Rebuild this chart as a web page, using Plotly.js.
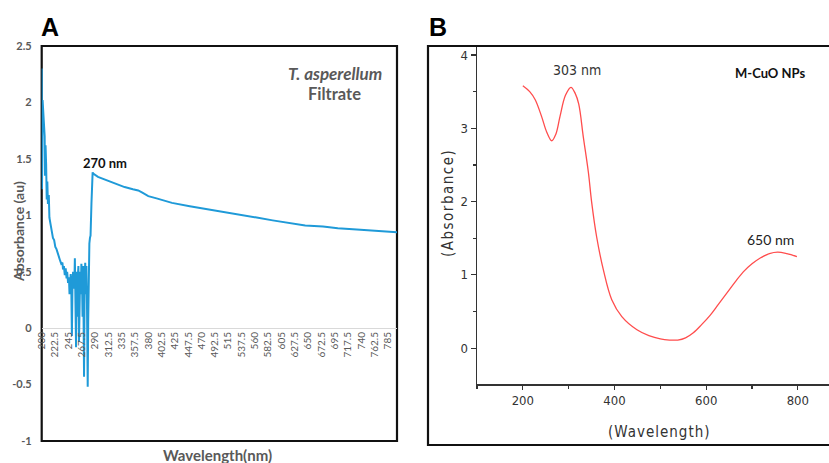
<!DOCTYPE html>
<html>
<head>
<meta charset="utf-8">
<script src="https://cdn.plot.ly/plotly-3.0.1.min.js"></script>
<style>
html,body{margin:0;padding:0;background:#fff;}
g.annotation[data-index="10"] text{letter-spacing:1px;}
g.annotation[data-index="11"] text{letter-spacing:1.5px;}
</style>
</head>
<body>
<div id="chart" style="width:829px;height:463px;"></div>
<script>
// Panel A: T. asperellum filtrate spectrum
const filtrateWavelength = [200,200.5,201.5,203,204,205,205.5,206.5,207.5,208.5,209.5,210.5,212,213,215,217,219,221,223,225,227,229,231,233,235,236,237.5,239,240.5,242,243,244.5,246,247,248,249,250,251,252,253,254,255,256,257,258,259,260,261,262,263,264,265,266,267,268,269,270,271.5,272.5,273.5,274.5,275.5,276.5,277.7,278.5,279.5,280.5,281.5,282.5,284,286,287,295,310,325,340,354,363,370,380,394,420,450,480,506,535,563,590,619,645,675,700,732,765,800];
const filtrateAbs = [2.30,1.23,2.02,1.85,1.78,1.70,1.35,1.62,1.45,1.14,1.30,1.10,1.18,0.98,0.92,0.85,0.80,0.78,0.72,0.70,0.66,0.62,0.60,0.57,0.58,0.52,0.55,0.47,0.53,0.44,0.50,0.40,0.45,0.30,0.42,0.48,0.35,-0.07,0.40,0.50,0.45,0.35,0.62,0.20,-0.17,0.50,0.10,0.45,0.55,-0.12,0.40,0.50,0.30,0.57,0.45,0.10,0.55,-0.43,0.40,0.58,0.30,0.55,0.20,-0.52,0.05,0.55,0.75,0.80,0.82,1.10,1.38,1.37,1.34,1.31,1.28,1.25,1.23,1.22,1.20,1.17,1.15,1.11,1.08,1.055,1.03,1.005,0.98,0.955,0.93,0.91,0.90,0.885,0.875,0.86,0.85];
const aYTickVals = [-1,-0.5,0,0.5,1,1.5,2,2.5];
const aYTickText = ["-1","-0.5","0","0.5","1","1.5","2","2.5"];

// Panel B: M-CuO NPs spectrum
const cuoWavelength = [200,215,227,241,252,263,272,281,293,305,314,322,332,343,350,361,376,394,416,449,475,500,520,538,555,572,590,609,627,645,663,681,700,718,738,756,776,798];
const cuoAbs = [3.58,3.50,3.39,3.16,2.95,2.83,2.92,3.16,3.45,3.56,3.48,3.33,2.88,2.40,2.00,1.52,1.06,0.66,0.43,0.25,0.17,0.125,0.11,0.11,0.14,0.21,0.32,0.45,0.60,0.75,0.90,1.04,1.15,1.23,1.29,1.31,1.29,1.25];

const W = 829, H = 463;
const px = v => v / W;
const py = v => (H - v) / H;
const narrow = "Liberation Sans Narrow, Arial Narrow, DejaVu Sans Condensed, Roboto, sans-serif";
const grey = '#595959';

const traces = [
  {x: filtrateWavelength, y: filtrateAbs, xaxis:'x', yaxis:'y', mode:'lines',
   line:{color:'#1f9ad8', width:2}, hoverinfo:'skip'},
  {x: cuoWavelength, y: cuoAbs, xaxis:'x2', yaxis:'y2', mode:'lines',
   line:{color:'#ff4d4d', width:1.3, shape:'spline', smoothing:1}, hoverinfo:'skip'}
];

const layout = {
  width: W, height: H,
  margin: {l:0, r:0, t:0, b:0},
  paper_bgcolor:'#fff', plot_bgcolor:'rgba(0,0,0,0)',
  showlegend:false,
  xaxis: {
    domain:[px(41.7), px(397)], range:[200,800], anchor:'free', position: py(329),
    tickmode:'linear', tick0:200, dtick:22.5, tickangle:-90,
    tickfont:{family:'Lato, sans-serif', size:10, color:grey},
    showline:false, showgrid:false, zeroline:false, ticks:'', fixedrange:true
  },
  yaxis: {
    domain:[py(441), py(46)], range:[-1,2.5], anchor:'x',
    tickmode:'array', tickvals:aYTickVals, ticktext:aYTickText,
    tickfont:{family:'Lato, sans-serif', size:11, color:grey, weight:'bold'},
    ticklabelstandoff:9,
    showline:false, showgrid:false, zeroline:true, zerolinecolor:'#d9d9d9', zerolinewidth:1,
    ticks:'', fixedrange:true
  },
  xaxis2: {
    domain:[px(477), 1], range:[100,868], anchor:'y2',
    tickmode:'linear', tick0:200, dtick:200,
    ticks:'outside', ticklen:4, tickwidth:1.2, tickcolor:'#333',
    minor:{tick0:100, dtick:100, ticks:'outside', ticklen:3, tickwidth:1.2, tickcolor:'#333'},
    showline:true, linecolor:'#333', linewidth:1.5, showgrid:false, zeroline:false,
    tickfont:{family:narrow, size:13, color:'#333'},
    fixedrange:true
  },
  yaxis2: {
    domain:[py(384), py(47)], range:[-0.49,4.11], anchor:'x2',
    tickmode:'linear', tick0:0, dtick:1,
    ticks:'outside', ticklen:5, tickwidth:1.2, tickcolor:'#333',
    minor:{tick0:0, dtick:0.5, ticks:'outside', ticklen:3, tickwidth:1.2, tickcolor:'#333'},
    showline:true, linecolor:'#333', linewidth:1.5, showgrid:false, zeroline:false,
    tickfont:{family:narrow, size:13, color:'#333'},
    fixedrange:true
  },
  shapes: [
    {type:'rect', xref:'x domain', yref:'y domain', x0:0, x1:1, y0:0, y1:1, layer:'below',
     line:{color:'#111', width:2.2}},
    {type:'rect', xref:'paper', yref:'paper', x0:px(428), x1:1.02, y0:py(445), y1:py(46),
     line:{color:'#111', width:2.2}}
  ],
  annotations: [
    {text:'<b>A</b>', xref:'paper', yref:'paper', x:px(39), y:py(27), xanchor:'left', yanchor:'middle',
     showarrow:false, font:{family:'Liberation Sans, Arial, sans-serif', size:25, color:'#000'}},
    {text:'<b>B</b>', xref:'paper', yref:'paper', x:px(427), y:py(27), xanchor:'left', yanchor:'middle',
     showarrow:false, font:{family:'Liberation Sans, Arial, sans-serif', size:25, color:'#000'}},
    {text:'<b>Absorbance (au)</b>', xref:'paper', yref:'paper', x:px(18), y:py(232), xanchor:'center', yanchor:'middle',
     textangle:-90, showarrow:false, font:{family:'Lato, sans-serif', size:14, color:grey}},
    {text:'<b>Wavelength(nm)</b>', xref:'paper', yref:'paper', x:px(217), y:py(444), xanchor:'center', yanchor:'top',
     showarrow:false, font:{family:'Lato, sans-serif', size:15, color:grey}},
    {text:'<b><i>T. asperellum</i></b>', xref:'paper', yref:'paper', x:px(384), y:py(73), xanchor:'right', yanchor:'middle',
     showarrow:false, font:{family:'Lato, sans-serif', size:17, color:grey}},
    {text:'<b>Filtrate</b>', xref:'paper', yref:'paper', x:px(334), y:py(94), xanchor:'center', yanchor:'middle',
     showarrow:false, font:{family:'Lato, sans-serif', size:16.5, color:grey}},
    {text:'<b>270 nm</b>', xref:'paper', yref:'paper', x:px(105), y:py(163), xanchor:'center', yanchor:'middle',
     showarrow:false, font:{family:'Lato, sans-serif', size:13, color:'#111'}},
    {text:'303 nm', xref:'paper', yref:'paper', x:px(577), y:py(70), xanchor:'center', yanchor:'middle',
     showarrow:false, font:{family:narrow, size:14, color:'#333'}},
    {text:'<b>M-CuO NPs</b>', xref:'paper', yref:'paper', x:px(770), y:py(73), xanchor:'center', yanchor:'middle',
     showarrow:false, font:{family:'Lato, sans-serif', size:13, color:'#111'}},
    {text:'650 nm', xref:'paper', yref:'paper', x:px(770), y:py(240), xanchor:'center', yanchor:'middle',
     showarrow:false, font:{family:'Lato, sans-serif', size:14, color:'#222'}},
    {text:'(Wavelength)', xref:'paper', yref:'paper', x:px(659), y:py(432), xanchor:'center', yanchor:'middle',
     showarrow:false, font:{family:narrow, size:15, color:'#333'}},
    {text:'(Absorbance)', xref:'paper', yref:'paper', x:px(448), y:py(203), xanchor:'center', yanchor:'middle',
     textangle:-90, showarrow:false, font:{family:narrow, size:15, color:'#333'}}
  ]
};

Plotly.newPlot('chart', traces, layout, {displayModeBar:false, staticPlot:true});
</script>
</body>
</html>
